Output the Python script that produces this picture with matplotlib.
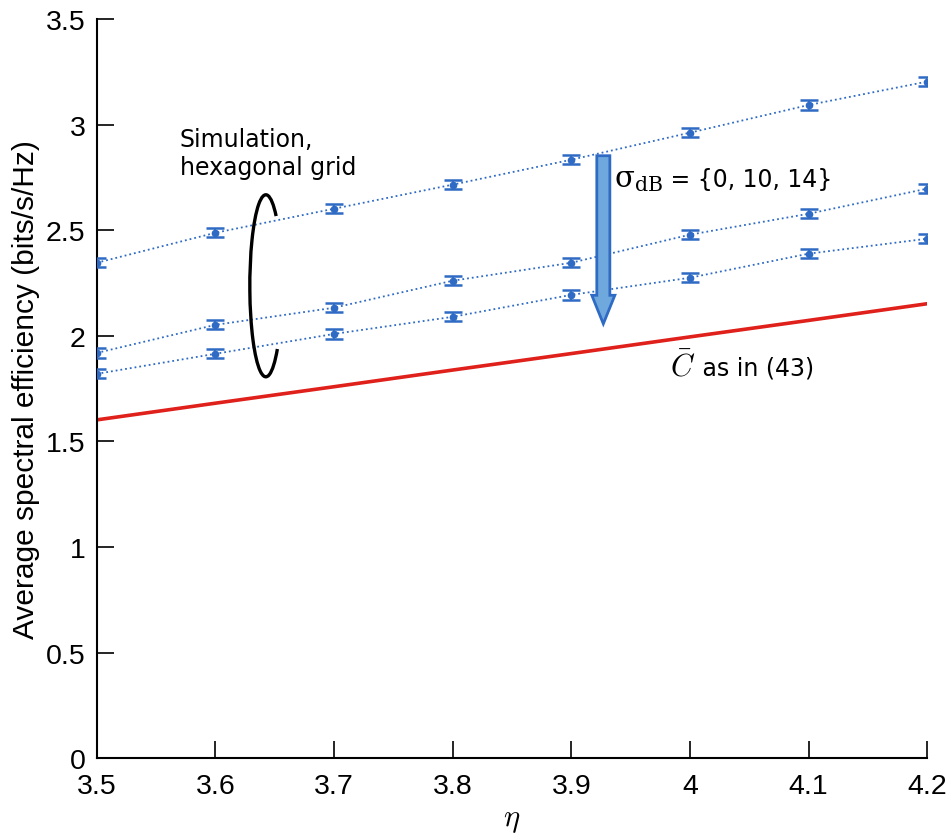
import matplotlib
matplotlib.use("Agg")
import numpy as np
import matplotlib.pyplot as plt
from matplotlib.patches import Arc, FancyArrow

# ----------------------------
# Data
# ----------------------------
eta = [3.5, 3.6, 3.7, 3.8, 3.9, 4.0, 4.1, 4.2]
sim_sigma0 = [2.346, 2.488, 2.602, 2.716, 2.834, 2.962, 3.093, 3.204]
sim_sigma10 = [1.919, 2.052, 2.133, 2.261, 2.346, 2.479, 2.578, 2.697]
sim_sigma14 = [1.820, 1.915, 2.009, 2.090, 2.194, 2.275, 2.389, 2.460]
err = [0.022] * len(eta)
c_bar = [1.602, 1.681, 1.759, 1.838, 1.916, 1.995, 2.073, 2.152]

blue = "#2f6bc4"
red = "#e0201b"

plt.rcParams["mathtext.fontset"] = "cm"

# ----------------------------
# Plot
# ----------------------------
fig = plt.figure(figsize=(9.49, 8.37), dpi=100)
ax = fig.add_axes([0.102, 0.093, 0.875, 0.883])

for series in [sim_sigma0, sim_sigma10, sim_sigma14]:
    ax.errorbar(eta, series, yerr=err, color=blue, linestyle=":", linewidth=1.3,
                marker="o", markersize=4.5, capsize=6.5, capthick=1.8,
                elinewidth=1.3, zorder=3)

ax.plot(eta, c_bar, color=red, linewidth=2.6, zorder=2)

# annotations
ax.text(3.570, 2.99, "Simulation,\nhexagonal grid", fontsize=17,
        va="top", ha="left", family="DejaVu Sans")

# open ellipse around the simulation curves (Arc angles are stretched by w/h)
arc_w, arc_h = 0.027, 0.862
def arc_angle(param_deg):
    p = np.deg2rad(param_deg)
    return np.rad2deg(np.arctan2(np.sin(p) * arc_h, np.cos(p) * arc_w))
ax.add_patch(Arc((3.6425, 2.237), arc_w, arc_h,
                 theta1=arc_angle(50), theta2=arc_angle(316) % 360,
                 color="black", linewidth=2.4, zorder=4))

ax.add_patch(FancyArrow(3.927, 2.853, 0, -0.796, width=0.011, head_width=0.0194,
                        head_length=0.135, length_includes_head=True,
                        facecolor="#6fa8dc", edgecolor=blue, linewidth=2, zorder=5))

t1 = ax.text(3.936, 2.744, r"$\mathrm{\sigma}_{\mathrm{dB}}$", fontsize=21,
             va="center", ha="left", math_fontfamily="dejavuserif")
ax.annotate(" = {0, 10, 14}", xy=(1, 0.5), xycoords=t1, va="center", ha="left",
            fontsize=17, family="DejaVu Sans")

t2 = ax.text(3.983, 1.858, r"$\bar{C}$", fontsize=22, va="center", ha="left")
ax.annotate(" as in (43)", xy=(1, 0.45), xycoords=t2, va="center", ha="left",
            fontsize=17, family="DejaVu Sans")

# axes
ax.set_xlim(3.5, 4.2)
ax.set_ylim(0, 3.5)
ax.set_xticks(eta)
ax.set_xticklabels(["3.5", "3.6", "3.7", "3.8", "3.9", "4", "4.1", "4.2"])
ax.set_yticks([0, 0.5, 1, 1.5, 2, 2.5, 3, 3.5])
ax.set_yticklabels(["0", "0.5", "1", "1.5", "2", "2.5", "3", "3.5"])
for lab in ax.get_xticklabels() + ax.get_yticklabels():
    lab.set_family("Liberation Sans")
    lab.set_fontsize(20.5)
ax.tick_params(direction="in", length=12, width=1.2)
ax.tick_params(axis="x", pad=11)
ax.tick_params(axis="y", pad=8)
ax.spines["top"].set_visible(False)
ax.spines["right"].set_visible(False)
ax.spines["left"].set_linewidth(1.5)
ax.spines["bottom"].set_linewidth(1.5)

ax.set_xlabel(r"$\eta$", fontsize=22, labelpad=4)
ax.set_ylabel("Average spectral efficiency (bits/s/Hz)", fontsize=21.5,
              family="Liberation Sans", labelpad=4)

plt.savefig("out.png", dpi=100)
